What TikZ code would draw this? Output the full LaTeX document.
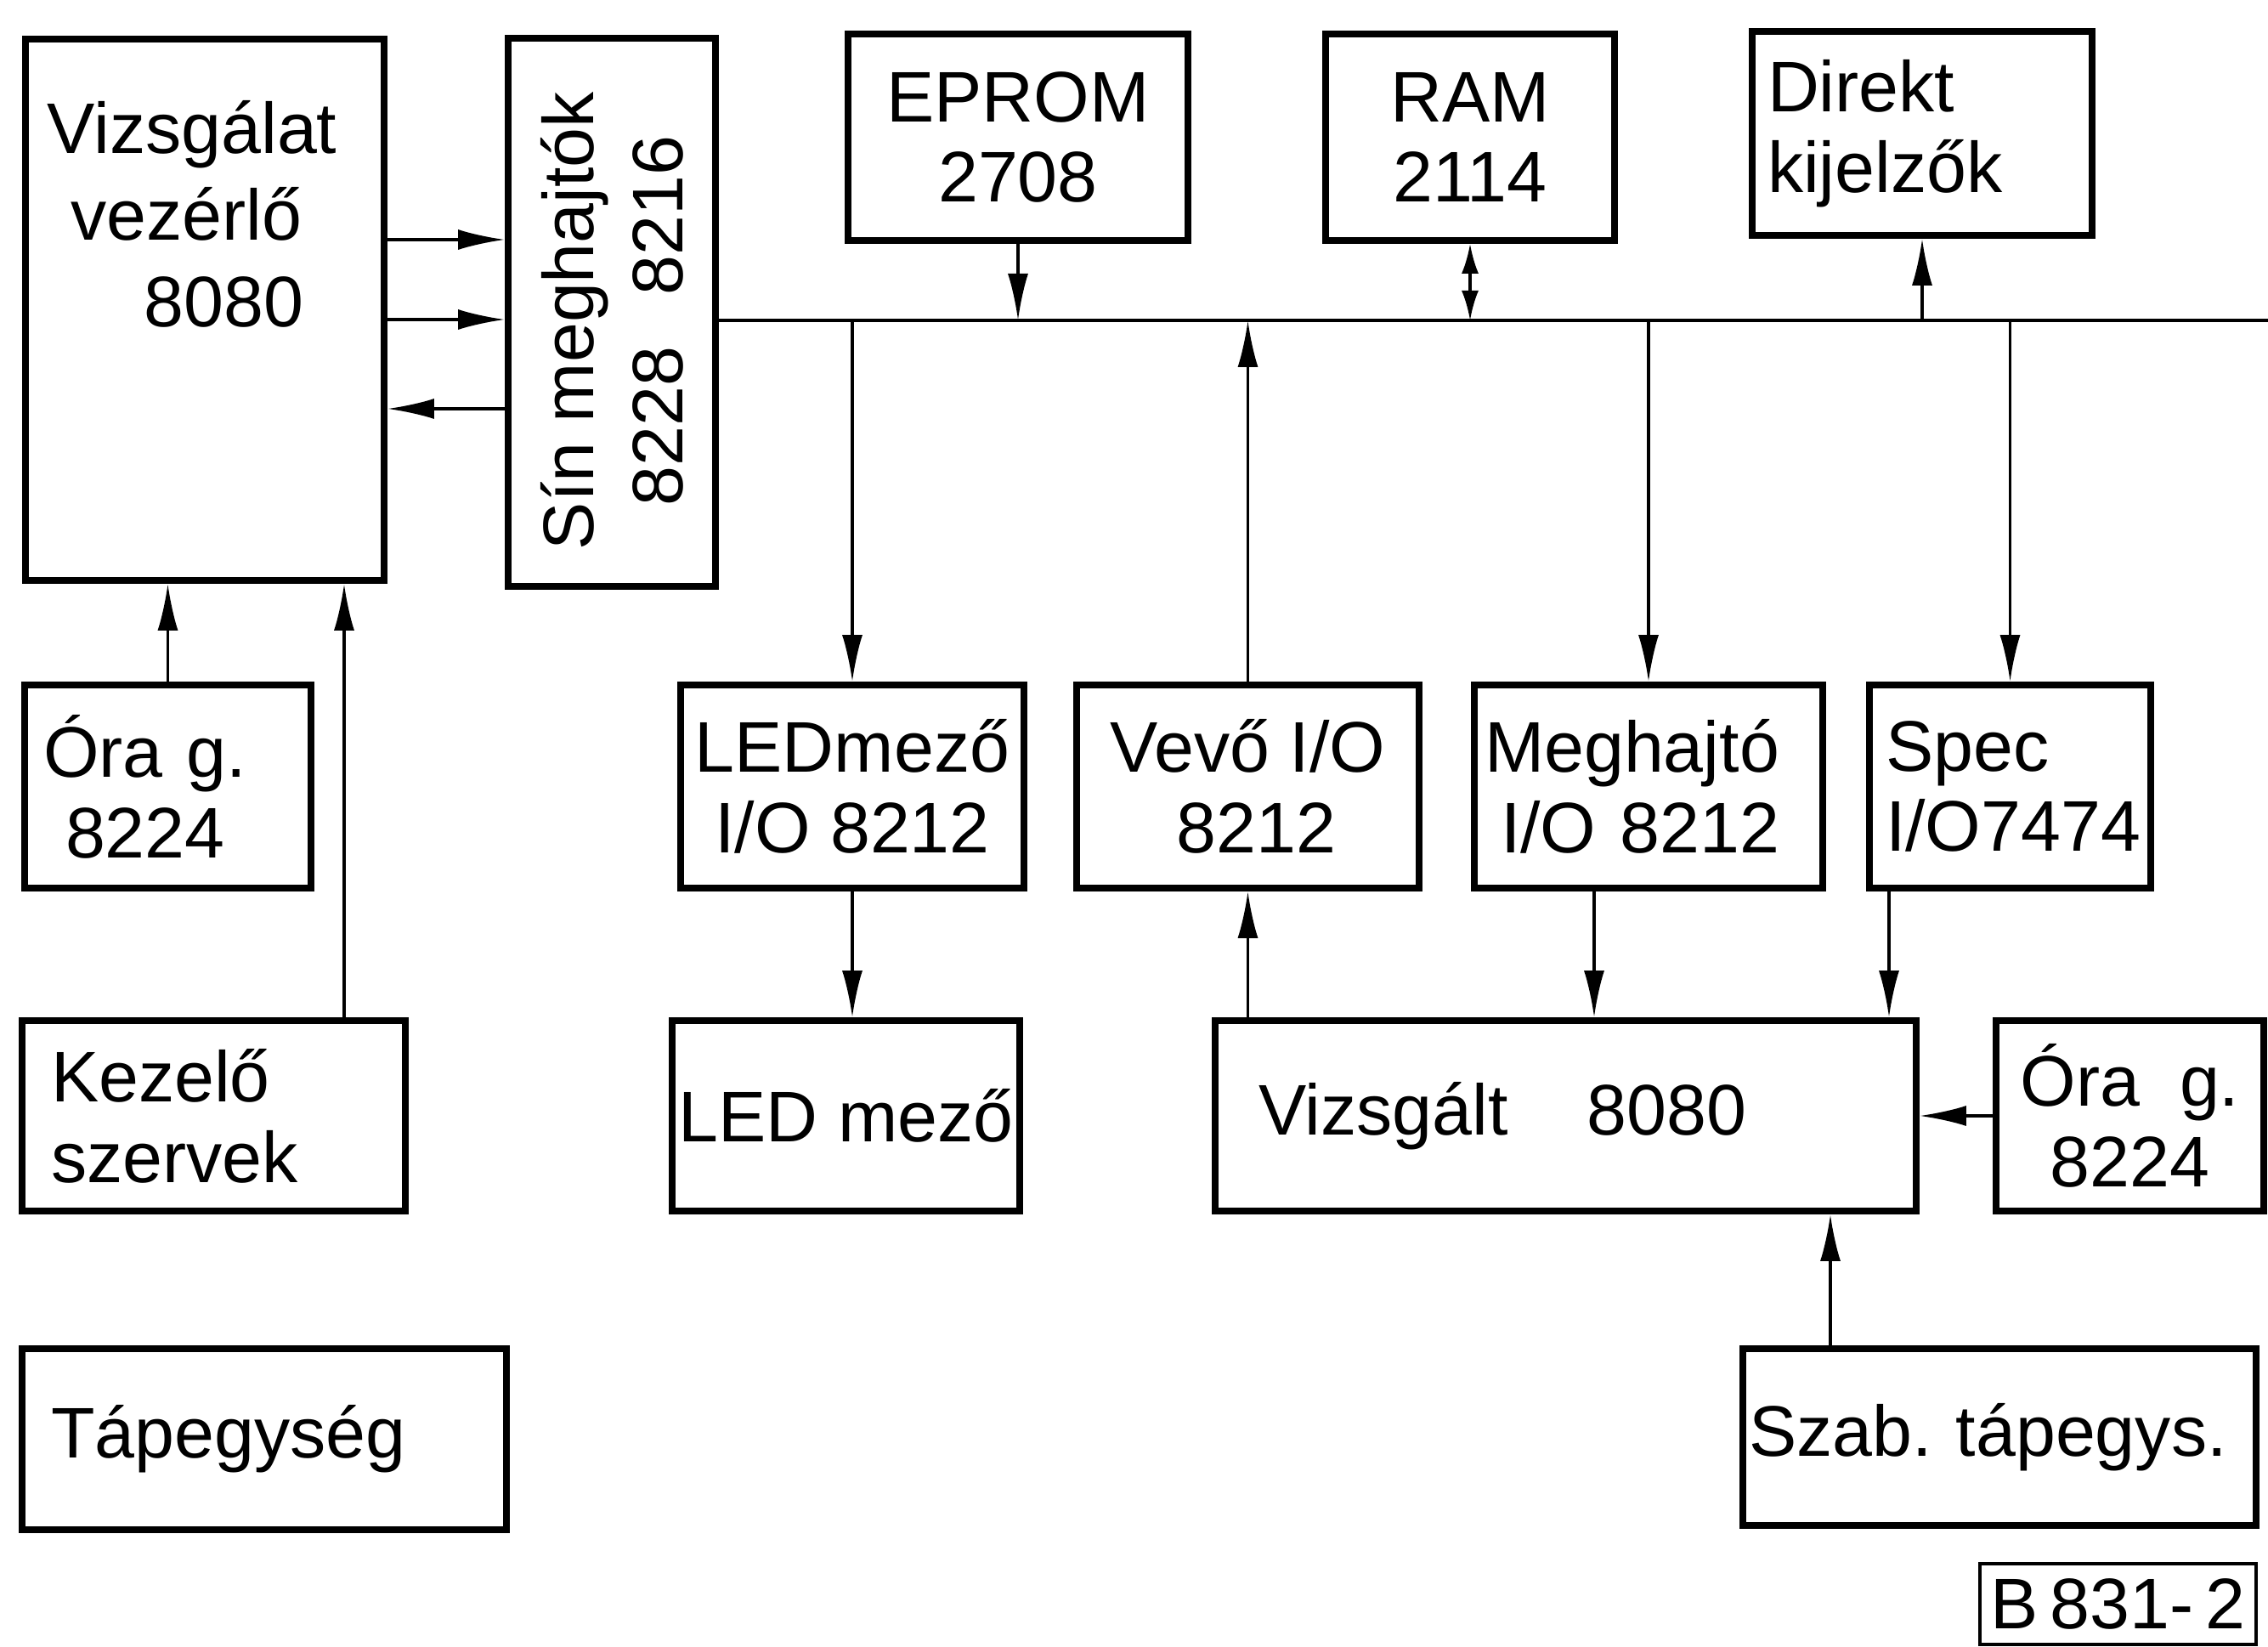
\documentclass[tikz,border=0pt]{standalone}
\usepackage{fontspec}
\setmainfont{Liberation Sans}
\usetikzlibrary{arrows.meta}
\newcommand\boxfont{\fontsize{24}{27}\selectfont\frenchspacing}
\begin{document}
\begin{tikzpicture}[every node/.style={font=\boxfont},
  >={Latex[length=5.5mm,width=2.4mm]},
  blk/.style={draw,line width=2.2pt,inner sep=0pt,align=center},
  lblk/.style={blk,align=left},
  wire/.style={line width=1pt},
  twoway/.style={line width=1pt,{Latex[length=3.5mm,width=2mm]}-{Latex[length=3.5mm,width=2mm]}}]
  \useasboundingbox (0,0) rectangle (26.69,-19.38);
  \def\busY{-3.77}
  \node[blk,minimum width=4.22cm,minimum height=6.37cm] (vez) at (2.41,-3.645) {};
  \node[anchor=north west,align=left,inner sep=0pt] (vezTxt) at (0.55,-1.18)
    {Vizsgálat\\[2pt]\hspace{0.28cm}vezérlő\\[2pt]\hspace{1.14cm}8080};
  \node[blk,minimum width=2.44cm,minimum height=6.45cm] (sin) at (7.20,-3.675) {};
  \node[rotate=90,align=center,inner sep=0pt] (sinTxt) at ([yshift=-0.1cm]sin.center)
    {Sín meghajtók\\[0.1cm]8228\hspace{0.6cm}8216};
  \node[blk,minimum width=4.0cm,minimum height=2.43cm] (eprom) at (11.98,-1.615) {EPROM\\2708};
  \node[blk,minimum width=3.4cm,minimum height=2.43cm] (ram) at (17.30,-1.615) {RAM\\2114};
  \node[lblk,text width=3.64cm,minimum width=4.0cm,minimum height=2.40cm] (direkt) at (22.62,-1.57) {Direkt\\kijelzők};
  \node[lblk,text width=2.93cm,minimum width=3.37cm,minimum height=2.39cm] (ora1) at (1.975,-9.255) {Óra g.\\\hspace{0.26cm}8224};
  \node[blk,minimum width=4.04cm,minimum height=2.39cm] (ledio) at (10.03,-9.255) {LEDmező\\I/O 8212};
  \node[blk,minimum width=4.03cm,minimum height=2.39cm] (vevo) at (14.685,-9.255) {Vevő I/O\\\hspace{0.2cm}8212};
  \node[lblk,text width=3.86cm,minimum width=4.10cm,minimum height=2.39cm] (megh) at (19.40,-9.255) {Meghajtó\\\hspace{0.19cm}I/O 8212};
  \node[lblk,text width=2.93cm,minimum width=3.31cm,minimum height=2.39cm] (spec) at (23.655,-9.255) {Spec\\I/O7474};
  \node[lblk,text width=3.83cm,minimum width=4.51cm,minimum height=2.24cm] (kez) at (2.515,-13.13) {Kezelő\\szervek};
  \node[blk,minimum width=4.09cm,minimum height=2.24cm] (led) at (9.955,-13.13) {LED mező};
  \node[lblk,text width=7.23cm,minimum width=8.25cm,minimum height=2.24cm] (vizs) at (18.425,-13.13) {Vizsgált\hspace{0.93cm}8080};
  \node[blk,minimum width=3.15cm,minimum height=2.24cm] (ora2) at (25.065,-13.13) {Óra\ \ g.\\8224};
  \node[lblk,text width=5.02cm,minimum width=5.70cm,minimum height=2.13cm] (tap) at (3.11,-16.935) {Tápegység};
  \node[lblk,text width=5.9cm,minimum width=6.04cm,minimum height=2.08cm] (szab) at (23.53,-16.91) {Szab. tápegys.};
  \node[draw,line width=1.2pt,inner sep=0pt,minimum width=3.25cm,minimum height=0.95cm] (code) at (24.925,-18.875) {B\,831-\,2};
  \coordinate (busEnd) at (26.69,\busY);
  \draw[line width=1.3pt] (sin.east |- busEnd) -- (busEnd);
  \draw[wire,->] (vez.east |- 0,-2.82) -- (sin.west |- 0,-2.82);
  \draw[wire,->] (vez.east |- 0,-3.76) -- (sin.west |- 0,-3.76);
  \draw[wire,<-] (vez.east |- 0,-4.81) -- (sin.west |- 0,-4.81);
  \draw[wire,->] (eprom.south) -- (eprom.south |- busEnd);
  \draw[twoway] (ram.south) -- (ram.south |- busEnd);
  \draw[wire,->] (direkt.south |- busEnd) -- (direkt.south);
  \draw[wire,->] (ledio.north |- busEnd) -- (ledio.north);
  \draw[wire,->] (vevo.north) -- (vevo.north |- busEnd);
  \draw[wire,->] (megh.north |- busEnd) -- (megh.north);
  \draw[wire,->] (spec.north |- busEnd) -- (spec.north);
  \draw[wire,->] (ora1.north) -- (ora1.north |- vez.south);
  \coordinate (kezOut) at (kez.north -| 4.05,0);
  \draw[wire,->] (kezOut) -- (kezOut |- vez.south);
  \draw[wire,->] (ledio.south) -- (ledio.south |- led.north);
  \draw[wire,->] (vevo.south |- vizs.north) -- (vevo.south);
  \coordinate (meghOut) at (megh.south -| 18.76,0);
  \draw[wire,->] (meghOut) -- (meghOut |- vizs.north);
  \coordinate (specOut) at (spec.south -| 22.23,0);
  \draw[wire,->] (specOut) -- (specOut |- vizs.north);
  \draw[wire,->] (ora2.west) -- (vizs.east);
  \coordinate (szabOut) at (szab.north -| 21.54,0);
  \draw[wire,->] (szabOut) -- (szabOut |- vizs.south);
\end{tikzpicture}
\end{document}
